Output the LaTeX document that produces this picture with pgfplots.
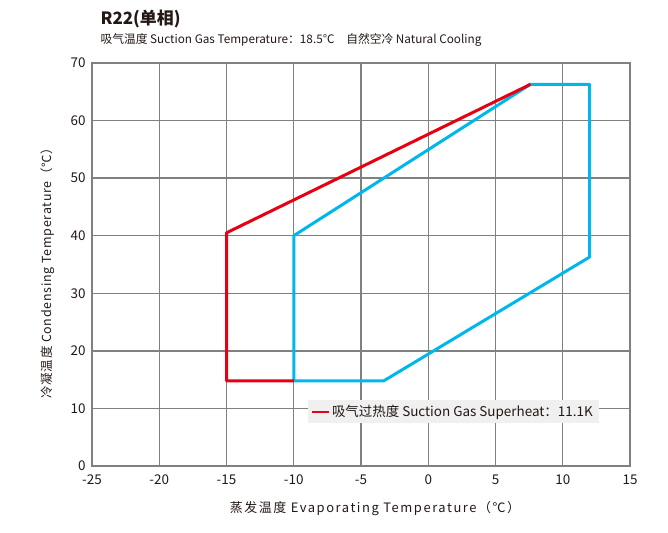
\documentclass[border=0pt]{standalone}
\usepackage{pgfplots}
\pgfplotsset{compat=1.18}
\usepackage{fontspec}
\setmainfont{Noto Sans CJK SC}
\definecolor{gridgray}{RGB}{128,128,128}
\definecolor{envred}{RGB}{230,0,18}
\definecolor{envblue}{RGB}{0,183,235}
\definecolor{legbg}{RGB}{240,240,240}
\definecolor{txt}{RGB}{35,24,21}

\begin{document}
\begin{tikzpicture}[x=1bp,y=1bp]
  \begin{axis}[
    at={(0,0)}, anchor=south west,
    scale only axis,
    width=538bp, height=403bp,
    xmin=-25, xmax=15, ymin=0, ymax=70,
    xtick={-25,-20,...,15}, ytick={0,10,...,70},
    major tick length=0pt,
    grid=major,
    major grid style={gridgray, line width=1.4bp},
    axis line style={gridgray, line width=2bp},
    /pgf/number format/assume math mode=true,
    tick label style={font=\fontsize{13.5}{15}\selectfont, text=txt},
    xticklabel style={yshift=-5bp},
    yticklabel style={xshift=-3bp},
    xlabel={蒸发温度 Evaporating Temperature（℃）},
    ylabel={冷凝温度 Condensing Temperature（℃）},
    xlabel style={font=\fontsize{13}{15}\selectfont\addfontfeatures{LetterSpace=12}, text=txt,
      at={(axis description cs:0.526,0)}, anchor=north, yshift=-32bp},
    ylabel style={font=\fontsize{12.5}{15}\selectfont\addfontfeatures{LetterSpace=6}, text=txt,
      at={(axis description cs:0,0.486)}, anchor=south, yshift=34bp},
    legend style={at={(axis cs:1.85,9.4)}, anchor=center, fill=legbg, draw=none,
      font=\fontsize{13.5}{15}\selectfont, text=txt, inner xsep=4bp, inner ysep=3bp},
    legend image post style={line width=1.5bp},
  ]
    % blue envelope
    \addplot[envblue, line width=3bp, line join=round, forget plot] coordinates {
      (-10,14.8) (-3.3,14.8) (12,36.3) (12,66.3) (7.6,66.3) (-10,40) (-10,14.8)
    };
    % red envelope
    \addplot[envred, line width=3bp, line join=round] coordinates {
      (-10,14.8) (-15,14.8) (-15,40.5) (7.6,66.3)
    };
    \addlegendentry{吸气过热度 Suction Gas Superheat：11.1K}
  \end{axis}
  \node[anchor=base west, font=\fontsize{17}{19}\selectfont\bfseries, text=txt] at (5,441) {R22(单相)};
  \node[anchor=base west, font=\fontsize{11.8}{13}\selectfont, text=txt] at (5,422) {吸气温度 Suction Gas Temperature：18.5℃\quad 自然空冷 Natural Cooling};
  \path (-92,-67) rectangle (576,466);
\end{tikzpicture}
\end{document}
